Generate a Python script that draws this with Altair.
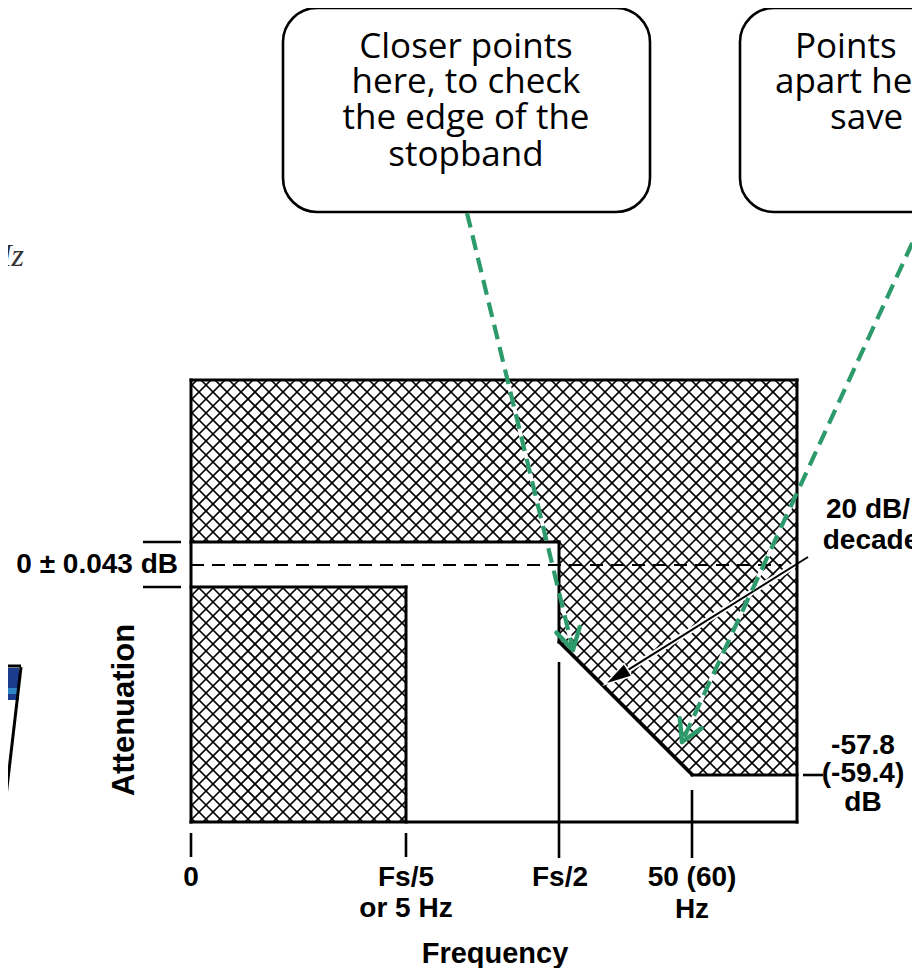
import math
import altair as alt
import pandas as pd

# ---------------- layout (page pixel coordinates; data = pixel) ----------------
PAGE_W, PAGE_H = 904, 960
XDOM = [8, 912]
YDOM = [8, 968]

# plot frame
FRAME_L, FRAME_R, FRAME_T, FRAME_B = 191, 797, 380, 822
# passband limits (+0.043 / 0 / -0.043 dB)
PASS_TOP, PASS_MID, PASS_BOT = 542, 565, 587
# frequency marks: Fs/5, Fs/2, 50 (60) Hz
F_FS5, F_FS2, F_50 = 406, 559, 692
# stopband: knee just after Fs/2, floor (-57.8 dB)
KNEE_Y, FLOOR_Y = 642, 775

HATCH_SPACING = 14

# hatched (forbidden) regions, convex pieces
HATCH_POLYS = [
    [(FRAME_L, FRAME_T), (FRAME_R, FRAME_T), (FRAME_R, PASS_TOP), (FRAME_L, PASS_TOP)],
    [(F_FS2, PASS_TOP), (FRAME_R, PASS_TOP), (FRAME_R, FLOOR_Y), (F_50, FLOOR_Y), (F_FS2, KNEE_Y)],
    [(FRAME_L, PASS_BOT), (F_FS5, PASS_BOT), (F_FS5, FRAME_B), (FRAME_L, FRAME_B)],
]

# outline segments (x, y, x2, y2)
OUTLINE = [
    (FRAME_L, FRAME_T, FRAME_R, FRAME_T),
    (FRAME_L, FRAME_T, FRAME_L, FRAME_B),
    (FRAME_R, FRAME_T, FRAME_R, FRAME_B),
    (FRAME_L, FRAME_B, FRAME_R, FRAME_B),
    (FRAME_L, PASS_TOP, F_FS2, PASS_TOP),
    (F_FS2, PASS_TOP, F_FS2, KNEE_Y),
    (F_FS2, KNEE_Y, F_50, FLOOR_Y),
    (F_50, FLOOR_Y, FRAME_R, FLOOR_Y),
    (FRAME_L, PASS_BOT, F_FS5, PASS_BOT),
    (F_FS5, PASS_BOT, F_FS5, FRAME_B),
]
TICKS = [
    (FRAME_L, 833, FRAME_L, 857),
    (F_FS5, 833, F_FS5, 857),
    (F_FS2, 662, F_FS2, 858),
    (F_50, 790, F_50, 858),
    (143, PASS_TOP, 181, PASS_TOP),
    (143, PASS_BOT, 181, PASS_BOT),
    (803, FLOOR_Y, 823, FLOOR_Y),
]
DASHED = [(FRAME_L, PASS_MID, 782, PASS_MID)]

# axis / annotation labels (text, x, y, align)
BOLD_LABELS = [
    ("0 ± 0.043 dB", 178, PASS_MID, "right"),
    ("0", FRAME_L, 878, "center"),
    ("Fs/5", F_FS5, 878, "center"),
    ("or 5 Hz", F_FS5, 909, "center"),
    ("Fs/2", F_FS2 + 1, 878, "center"),
    ("50 (60)", F_50, 878, "center"),
    ("Hz", F_50, 910, "center"),
    ("20 dB/", 868, 510, "center"),
    ("decade", 871, 541, "center"),
    ("-57.8", 863, 746, "center"),
    ("(-59.4)", 863, 774, "center"),
    ("dB", 863, 803, "center"),
]
TITLE_X = ("Frequency", 495, 954)
TITLE_Y = ("Attenuation", 125, 710)

# callout bubbles (x, y, x2, y2)
BUBBLES = [(283, 8, 650, 212), (740, 8, 1107, 212)]
BUBBLE_TEXT = [
    ("Closer points", 466, 47, "center"),
    ("here, to check", 466, 82, "center"),
    ("the edge of the", 466, 118, "center"),
    ("stopband", 466, 155, "center"),
    ("Points", 795, 47, "left"),
    ("apart here,", 775, 82, "left"),
    ("save", 830, 118, "left"),
]

# green dashed pointer arrows: (start x, start y, tip x, tip y)
GREEN_ARROWS = [(467, 213, 573, 650), (922, 222, 682, 742)]
# black "20 dB/decade" arrow
BLACK_ARROW = (808, 557, 607, 683)

GREEN = "#2C9A6A"


# ---------------- geometry helpers ----------------
def clip_line(p0, d, poly):
    n = len(poly)
    area = sum(poly[i][0] * poly[(i + 1) % n][1] - poly[(i + 1) % n][0] * poly[i][1] for i in range(n))
    sgn = 1 if area > 0 else -1
    tmin, tmax = -1e9, 1e9
    for i in range(n):
        ax, ay = poly[i]
        bx, by = poly[(i + 1) % n]
        nx, ny = -(by - ay) * sgn, (bx - ax) * sgn
        num = nx * (p0[0] - ax) + ny * (p0[1] - ay)
        den = nx * d[0] + ny * d[1]
        if abs(den) < 1e-12:
            if num < 0:
                return None
            continue
        t = -num / den
        if den > 0:
            tmin = max(tmin, t)
        else:
            tmax = min(tmax, t)
    if tmax - tmin < 1e-6:
        return None
    return (p0[0] + tmin * d[0], p0[1] + tmin * d[1], p0[0] + tmax * d[0], p0[1] + tmax * d[1])


hatch = []
for poly in HATCH_POLYS:
    for sign in (1, -1):
        vals = [x - sign * y for x, y in poly]
        lo, hi = min(vals), max(vals)
        k = math.floor(lo / HATCH_SPACING)
        while k * HATCH_SPACING <= hi:
            c = k * HATCH_SPACING + 3
            seg = clip_line((c, 0), (1, sign), poly)
            if seg:
                hatch.append(seg)
            k += 1


def seg_df(segs):
    return pd.DataFrame(segs, columns=["x", "y", "x2", "y2"])


def v_head(sx, sy, tx, ty, arm, half_angle):
    L = math.hypot(sx - tx, sy - ty)
    ux, uy = (sx - tx) / L, (sy - ty) / L
    out = []
    for a in (half_angle, -half_angle):
        r = math.radians(a)
        vx = ux * math.cos(r) - uy * math.sin(r)
        vy = ux * math.sin(r) + uy * math.cos(r)
        out.append((tx, ty, tx + arm * vx, ty + arm * vy))
    return out


X = lambda f="x": alt.X(f"{f}:Q", scale=alt.Scale(domain=XDOM, nice=False, zero=False), axis=None)
Y = lambda f="y": alt.Y(f"{f}:Q", scale=alt.Scale(domain=YDOM, nice=False, zero=False, reverse=True), axis=None)


def rules(segs, **kw):
    return alt.Chart(seg_df(segs)).mark_rule(clip=True, **kw).encode(
        x=X(), y=Y(), x2="x2:Q", y2="y2:Q")


layers = []
layers.append(rules(hatch, color="black", strokeWidth=1.7))

# white halos under arrows
gsegs = [(a[0], a[1], a[2], a[3]) for a in GREEN_ARROWS]
layers.append(rules(gsegs, color="white", strokeWidth=4))
bx, by, btx, bty = BLACK_ARROW
layers.append(rules([BLACK_ARROW], color="white", strokeWidth=6))

layers.append(rules(OUTLINE, color="black", strokeWidth=3, strokeCap="square"))
layers.append(rules(DASHED, color="black", strokeWidth=2.2, strokeDash=[13, 8]))
layers.append(rules(TICKS, color="black", strokeWidth=2.6))

# labels
lab = pd.DataFrame(BOLD_LABELS, columns=["t", "x", "y", "a"])
for al in ("right", "center"):
    layers.append(alt.Chart(lab[lab.a == al]).mark_text(
        font="Liberation Sans", fontWeight="bold", fontSize=28, align=al, baseline="middle", color="black"
    ).encode(x=X(), y=Y(), text="t:N"))
layers.append(alt.Chart(pd.DataFrame([TITLE_X], columns=["t", "x", "y"])).mark_text(
    font="Liberation Sans", fontWeight="bold", fontSize=29, align="center", baseline="middle", color="black"
).encode(x=X(), y=Y(), text="t:N"))
layers.append(alt.Chart(pd.DataFrame([TITLE_Y], columns=["t", "x", "y"])).mark_text(
    font="Liberation Sans", fontWeight="bold", fontSize=31, align="center", baseline="middle", color="black", angle=270
).encode(x=X(), y=Y(), text="t:N"))

# black arrow with filled head
head_len = 24
L = math.hypot(btx - bx, bty - by)
dx, dy = (btx - bx) / L, (bty - by) / L
ang = math.degrees(math.atan2(dx, -dy)) % 360
layers.append(rules([(bx, by, btx - dx * head_len * 0.8, bty - dy * head_len * 0.8)], color="black", strokeWidth=2))
head = pd.DataFrame([(btx - dx * head_len / 2, bty - dy * head_len / 2)], columns=["x", "y"])
layers.append(alt.Chart(head).mark_point(
    shape="M0,-1L0.55,1L-0.55,1Z", size=head_len ** 2, angle=ang, filled=True,
    fill="black", stroke="white", strokeWidth=3, opacity=1
).encode(x=X(), y=Y()))
layers.append(alt.Chart(head).mark_point(
    shape="M0,-1L0.55,1L-0.55,1Z", size=head_len ** 2, angle=ang, filled=True,
    fill="black", opacity=1
).encode(x=X(), y=Y()))

# bubbles
layers.append(alt.Chart(seg_df(BUBBLES)).mark_rect(
    clip=True, cornerRadius=34, fill="white", stroke="black", strokeWidth=2.6
).encode(x=X(), y=Y(), x2="x2:Q", y2="y2:Q"))
bt = pd.DataFrame(BUBBLE_TEXT, columns=["t", "x", "y", "a"])
for al in ("center", "left"):
    layers.append(alt.Chart(bt[bt.a == al]).mark_text(
        clip=True, font="Open Sans", fontSize=35, align=al, baseline="middle", color="black"
    ).encode(x=X(), y=Y(), text="t:N"))

# green dashed arrows
layers.append(rules(gsegs, color=GREEN, strokeWidth=4.2, strokeDash=[15, 8]))
heads = []
for sx, sy, tx, ty in GREEN_ARROWS:
    heads += v_head(sx, sy, tx, ty, 24, 30)
layers.append(rules(heads, color=GREEN, strokeWidth=4.4, strokeCap="round"))

# fragments of neighbouring slide content at the left edge
layers.append(alt.Chart(pd.DataFrame([("Hz", 24, 256)], columns=["t", "x", "y"])).mark_text(
    font="Liberation Serif", fontStyle="italic", fontSize=32, align="right", baseline="middle", color="#333333"
).encode(x=X(), y=Y(), text="t:N"))
layers.append(alt.Chart(seg_df([(8, 668, 19, 700)])).mark_rect(clip=True, color="#1d3b8c").encode(
    x=X(), y=Y(), x2="x2:Q", y2="y2:Q"))
layers.append(alt.Chart(seg_df([(8, 688, 18, 694)])).mark_rect(clip=True, color="#2f86c6").encode(
    x=X(), y=Y(), x2="x2:Q", y2="y2:Q"))
layers.append(rules([(0, 666, 21, 666), (21, 667, 3, 822)], color="black", strokeWidth=3))

chart = alt.layer(*layers).properties(
    width=PAGE_W, height=PAGE_H, padding=0, autosize="none", background="white"
).configure_view(stroke=None)

chart.save("out.html", embed_options={"renderer": "svg", "actions": False})
